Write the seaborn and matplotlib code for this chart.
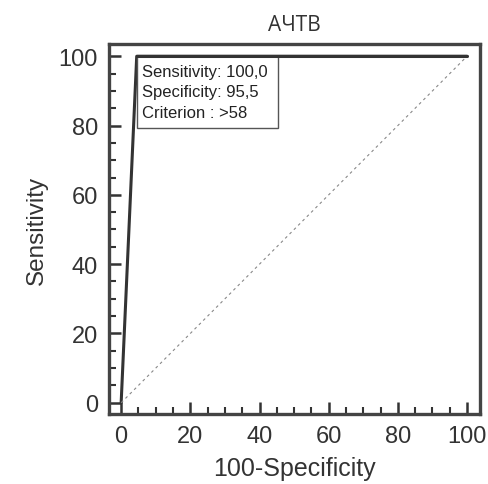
import matplotlib
matplotlib.use("Agg")
import matplotlib.pyplot as plt
import seaborn as sns
import pandas as pd
from matplotlib.ticker import MultipleLocator
from matplotlib.patches import Rectangle

title = "АЧТВ"
fpr = [0.0, 4.5, 100.0]          # 100-Specificity
tpr = [0.0, 100.0, 100.0]        # Sensitivity
diag_x = [0, 100]
diag_y = [0, 100]
info_lines = ["Sensitivity: 100,0", "Specificity: 95,5", "Criterion : >58"]
box_x = [4.5, 45.4]
box_y = [79.3, 100]

sns.set_theme(style="white")
plt.rcParams['font.family'] = ['Liberation Sans', 'DejaVu Sans']

fig = plt.figure(figsize=(4.89, 4.85), dpi=100)
ax = fig.add_axes([0.223, 0.144, 0.759, 0.763])

df = pd.DataFrame({"x": fpr, "y": tpr})
sns.lineplot(data=df, x="x", y="y", ax=ax, color="#333333", linewidth=2.2,
             sort=False, estimator=None)
ax.plot(diag_x, diag_y, color="#888888", linestyle=(0, (2.5, 3)), linewidth=0.8)

# info box
ax.add_patch(Rectangle((box_x[0], box_y[0]), box_x[1] - box_x[0], box_y[1] - box_y[0],
                       fill=True, facecolor="white", edgecolor="#555555", linewidth=1.0, zorder=3))
ax.plot(fpr[1:], tpr[1:], color="#333333", linewidth=2.2, zorder=4)
ax.text(box_x[0] + 1.5, box_y[1] - 2.2, "\n".join(info_lines), fontsize=12,
        va="top", ha="left", color="#222222", linespacing=1.45, zorder=5)

ax.set_xlim(-3.5, 103.8)
ax.set_ylim(-3.3, 103.5)
ax.xaxis.set_major_locator(MultipleLocator(20))
ax.yaxis.set_major_locator(MultipleLocator(20))
ax.xaxis.set_minor_locator(MultipleLocator(5))
ax.yaxis.set_minor_locator(MultipleLocator(5))
ax.tick_params(which="major", direction="in", length=8.5, width=1.8, color="#333333",
               labelsize=17, labelcolor="#333333", pad=8)
ax.tick_params(which="minor", direction="in", length=5, width=1.5, color="#333333")
ax.tick_params(axis="both", which="both", bottom=True, left=True, top=False, right=False)
for s in ax.spines.values():
    s.set_linewidth(2.4)
    s.set_color("#444444")

ax.set_xlabel("100-Specificity", fontsize=18, color="#333333", labelpad=6)
ax.set_ylabel("Sensitivity", fontsize=17.5, color="#333333", labelpad=8)
ax.set_title(title, fontsize=15, color="#333333", pad=10, family=["Open Sans", "DejaVu Sans"])

fig.savefig("out.png", dpi=100)
